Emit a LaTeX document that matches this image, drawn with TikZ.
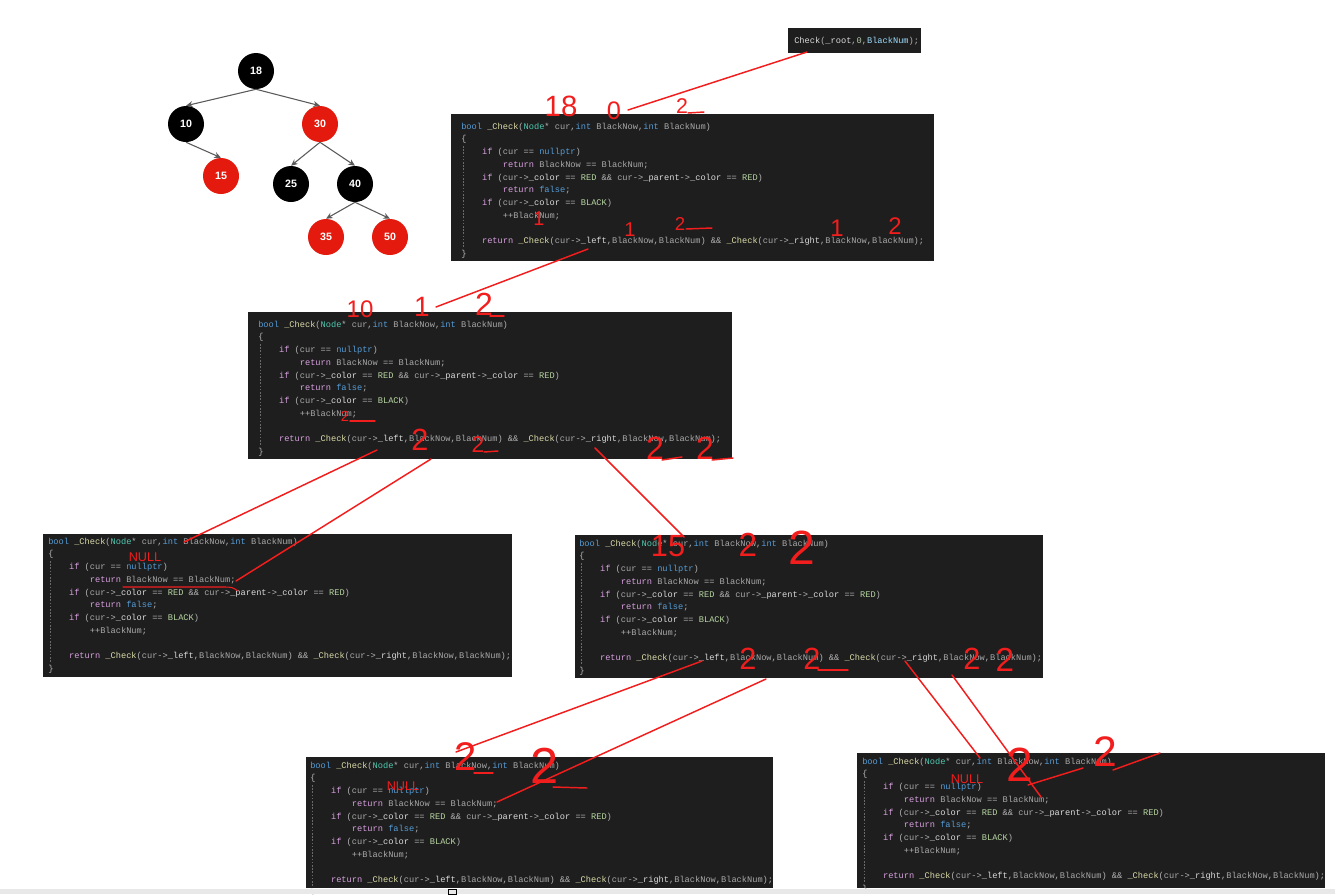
\documentclass[tikz,border=0pt]{standalone}
\usepackage{fontspec}
\setmainfont{Liberation Sans}
\setmonofont{Liberation Mono}
\usetikzlibrary{arrows.meta,calc}

\definecolor{codebg}{HTML}{1E1E1E}
\definecolor{kwblue}{HTML}{569CD6}
\definecolor{kwpink}{HTML}{D8A0DF}
\definecolor{fnyellow}{HTML}{DCDCAA}
\definecolor{tyteal}{HTML}{4EC9B0}
\definecolor{prmgray}{HTML}{A8A8A8}
\definecolor{mbrwhite}{HTML}{DADADA}
\definecolor{enmgreen}{HTML}{B8D7A3}
\definecolor{numgreen}{HTML}{B5CEA8}
\definecolor{varblue}{HTML}{9CDCFE}
\definecolor{opgray}{HTML}{B4B4B4}
\definecolor{guidegray}{HTML}{6A6A6A}
\definecolor{rbred}{HTML}{E31A0D}
\definecolor{penred}{HTML}{F21D1D}
\definecolor{edgegray}{HTML}{5A5A5A}
\definecolor{stripgray}{HTML}{E8E8E8}

\newcommand\kwd[1]{\textcolor{kwblue}{#1}}
\newcommand\ctl[1]{\textcolor{kwpink}{#1}}
\newcommand\fnc[1]{\textcolor{fnyellow}{#1}}
\newcommand\typ[1]{\textcolor{tyteal}{#1}}
\newcommand\prm[1]{\textcolor{prmgray}{#1}}
\newcommand\mbr[1]{\textcolor{mbrwhite}{#1}}
\newcommand\enm[1]{\textcolor{enmgreen}{#1}}
\newcommand\indfour{\phantom{xxxx}}
\newcommand\indeight{\phantom{xxxxxxxx}}

\newcommand\checkcode{%
\kwd{bool} \fnc{\_Check}(\typ{Node}* \prm{cur},\kwd{int} \prm{BlackNow},\kwd{int} \prm{BlackNum})\\
\{\\
\indfour\ctl{if} (\prm{cur} == \kwd{nullptr})\\
\indeight\ctl{return} \prm{BlackNow} == \prm{BlackNum};\\
\indfour\ctl{if} (\prm{cur}->\mbr{\_color} == \enm{RED} \&\& \prm{cur}->\mbr{\_parent}->\mbr{\_color} == \enm{RED})\\
\indeight\ctl{return} \kwd{false};\\
\indfour\ctl{if} (\prm{cur}->\mbr{\_color} == \enm{BLACK})\\
\indeight++\prm{BlackNum};\\
\mbox{}\\
\indfour\ctl{return} \fnc{\_Check}(\prm{cur}->\mbr{\_left},\prm{BlackNow},\prm{BlackNum}) \&\& \fnc{\_Check}(\prm{cur}->\mbr{\_right},\prm{BlackNow},\prm{BlackNum});\\
\}}

\tikzset{
  codebox/.style={fill=codebg, draw=none, anchor=north west, inner sep=0},
  codetext/.style={anchor=north west, inner sep=0, align=left, text=opgray,
    font=\ttfamily\fontsize{6.5}{9.52}\selectfont},
  guide/.style={guidegray, line width=0.4pt, dash pattern=on 1.2pt off 1.2pt},
  blacknode/.style={circle, fill=black, minimum size=27pt, inner sep=0,
    text=white, font=\fontsize{8}{8}\selectfont\bfseries},
  rednode/.style={blacknode, fill=rbred},
  treeedge/.style={edgegray, line width=0.8pt, -{Stealth[length=5pt,width=4.5pt]}},
  penline/.style={penred, line width=1.1pt, line cap=round},
  hand/.style={text=penred, inner sep=0, font=\fontsize{#1}{#1}\selectfont},
  hand/.default=16,
  nulltext/.style={text=penred, inner sep=0, font=\fontsize{9.5}{9.5}\selectfont}
}

\begin{document}
\begin{tikzpicture}[x=0.75pt,y=-0.75pt]
\useasboundingbox (0,0) rectangle (1335,894);
\fill[white] (0,0) rectangle (1335,894);

% red-black tree
\node[blacknode] (n18) at (256,71) {18};
\node[blacknode] (n10) at (186,124) {10};
\node[rednode] (n30) at (320,124) {30};
\node[rednode] (n15) at (221,176) {15};
\node[blacknode] (n25) at (291,184) {25};
\node[blacknode] (n40) at (355,184) {40};
\node[rednode] (n35) at (326,237) {35};
\node[rednode] (n50) at (390,237) {50};
\foreach \a/\b in {n18/n10,n18/n30,n10/n15,n30/n25,n30/n40,n40/n35,n40/n50}
  \draw[treeedge] (\a.south) -- (\b.north);

% first call
\node[codebox, minimum width=133*0.75pt, minimum height=25*0.75pt] (b0) at (788,28) {};
\node[codetext] (b0txt) at (794,36.7) {\mbr{Check}(\mbr{\_root},\textcolor{numgreen}{0},\textcolor{varblue}{BlackNum});};

% recursive calls
\foreach \nm/\bx/\by/\bw/\bh/\dx/\hy in {b1/451/114/483/147/10/127, b2/248/312/484/147/10/325,
    b3/43/534/469/143/5/542, b4/575/535/468/143/4/544, b5/306/757/467/131/4/766, b6/857/753/468/135/5/762}{
  \node[codebox, minimum width=\bw*0.75pt, minimum height=\bh*0.75pt] (\nm) at (\bx,\by) {};
  \node[codetext] (\nm txt) at (\bx+\dx,\hy-4.3) {\checkcode};
  \draw[guide] (\bx+\dx+2,\hy+19) -- (\bx+\dx+2,\hy+121);
}

% screenshot edge
\fill[stripgray] (0,889) rectangle (1335,894);
\draw[black, line width=0.6pt] (448,889) rectangle (456,894);

% pen strokes between calls
\coordinate (p0) at (807,52);  \coordinate (q1) at (628,110);
\coordinate (p1) at (588,249); \coordinate (q2) at (436,307);
\coordinate (p2l) at (377,450); \coordinate (q3) at (184,542);
\coordinate (p2n) at (431,459); \coordinate (q3r) at (236,581);
\coordinate (p2r) at (595,448); \coordinate (q4) at (684,537);
\coordinate (p4l) at (702,661); \coordinate (q5) at (456,752);
\coordinate (p4n) at (766,679); \coordinate (q5r) at (497,802);
\coordinate (p4r) at (905,661); \coordinate (q6) at (980,758);
\coordinate (p4s) at (952,675); \coordinate (q6r) at (1041,797);
\foreach \a/\b in {p0/q1,p1/q2,p2l/q3,p2n/q3r,p2r/q4,p4l/q5,p4n/q5r,p4r/q6,p4s/q6r}
  \draw[penline] (\a) -- (\b);

% pen notes, call 1
\node[hand=22] (h1a) at (561,106) {18};
\node[hand=19] (h1b) at (614,111) {0};
\node[hand=16] (h1c) at (682,106) {2};
\draw[penline] (688,113) -- (704,112);
\node[hand=15] (h1d) at (539,219) {1};
\node[hand=15] (h1e) at (630,230) {1};
\node[hand=14] (h1f) at (680,224) {2};
\draw[penline] (686,229) -- (712,228);
\node[hand=18] (h1g) at (837,228) {1};
\node[hand=18] (h1h) at (895,226) {2};

% pen notes, call 2
\node[hand=18] (h2a) at (360,309) {10};
\node[hand=21] (h2b) at (422,307) {1};
\node[hand=24] (h2c) at (484,304) {2};
\draw[penline] (490,316) -- (504,316);
\node[hand=11] (h2d) at (345,416) {2};
\draw[penline] (350,421) -- (375,421);
\node[hand=23] (h2e) at (420,440) {2};
\node[hand=17] (h2f) at (478,445) {2};
\draw[penline] (484,452) -- (498,451);
\node[hand=24] (h2g) at (655,448) {2};
\draw[penline] (662,460) -- (682,457);
\node[hand=24] (h2h) at (705,448) {2};
\draw[penline] (712,460) -- (733,458);

% pen notes, calls 3 and 4
\node[nulltext] (h3a) at (145,557) {NULL};
\draw[penline, line width=0.8pt] (123,587) -- (222,587) .. controls (232,587) .. (238,591);
\node[hand=23] (h4a) at (668,546) {15};
\node[hand=25] (h4b) at (748,545) {2};
\node[hand=36] (h4c) at (802,548) {2};
\node[hand=23] (h4d) at (748,659) {2};
\node[hand=23] (h4e) at (812,659) {2};
\draw[penline] (818,670) -- (848,670);
\node[hand=23] (h4f) at (972,659) {2};
\node[hand=25] (h4g) at (1005,660) {2};

% pen notes, calls 5 and 6
\node[hand=30] (h5a) at (466,757) {2};
\draw[penline] (474,773) -- (493,773);
\node[hand=38] (h5b) at (545,766) {2};
\draw[penline] (553,787) -- (587,788);
\node[nulltext] (h5c) at (403,786) {NULL};
\node[hand=36] (h6a) at (1020,765) {2};
\draw[penline] (1028,785) -- (1083,768);
\node[hand=32] (h6b) at (1105,752) {2};
\draw[penline] (1113,770) -- (1160,753);
\node[nulltext] (h6c) at (967,779) {NULL};
\end{tikzpicture}
\end{document}
